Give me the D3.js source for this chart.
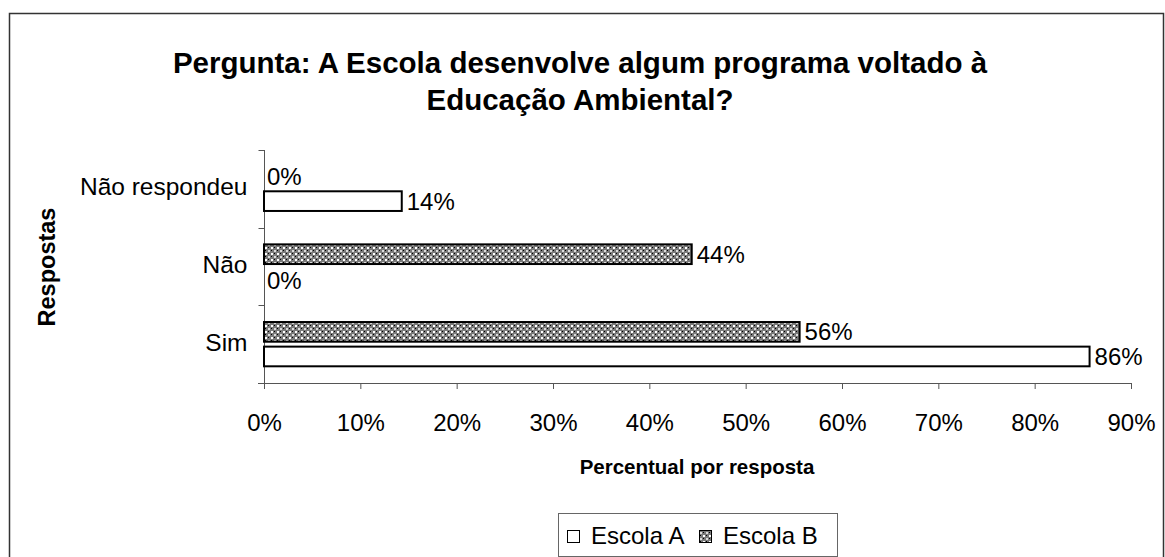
<!DOCTYPE html>
<html>
<head>
<meta charset="utf-8">
<script src="https://cdn.jsdelivr.net/npm/d3@7"></script>
<style>
  body { margin: 0; background: #fff; }
  svg text { font-family: "Liberation Sans", Arial, sans-serif; fill: #000; }
</style>
</head>
<body>
<svg id="chart" width="1165" height="557"></svg>
<script>
// Data
var categories = ["Não respondeu", "Não", "Sim"];
var seriesNames = ["Escola B", "Escola A"];   // top-to-bottom inside each group
var escolaA = [14.3, 0, 85.7];
var escolaB = [0, 44.4, 55.6];
var xTicks = [0, 10, 20, 30, 40, 50, 60, 70, 80, 90];

var svg = d3.select("#chart"),
    width = 1165,
    height = 557;

// hatch pattern for Escola B
var defs = svg.append("defs");
var pat = defs.append("pattern")
    .attr("id", "checker")
    .attr("width", 6).attr("height", 6)
    .attr("patternUnits", "userSpaceOnUse");
pat.append("rect").attr("width", 6).attr("height", 6).attr("fill", "#7a7a7a");
pat.append("rect").attr("x", 1).attr("y", 1).attr("width", 2).attr("height", 2).attr("fill", "#fff");
pat.append("rect").attr("x", 4).attr("y", 4).attr("width", 2).attr("height", 2).attr("fill", "#ddd");
pat.append("rect").attr("x", 4).attr("y", 1).attr("width", 1).attr("height", 1).attr("fill", "#000");
pat.append("rect").attr("x", 1).attr("y", 4).attr("width", 1).attr("height", 1).attr("fill", "#000");

// outer frame
svg.append("rect")
    .attr("x", 9.5).attr("y", 13.5)
    .attr("width", 1154).attr("height", 600)
    .attr("fill", "none").attr("stroke", "#333").attr("stroke-width", 1.5);

// Title
svg.append("text")
    .attr("x", 580).attr("y", 73)
    .attr("text-anchor", "middle")
    .style("font-size", "29.5px").style("font-weight", "bold")
    .text("Pergunta: A Escola desenvolve algum programa voltado à");
svg.append("text")
    .attr("x", 580).attr("y", 110)
    .attr("text-anchor", "middle")
    .style("font-size", "29.5px").style("font-weight", "bold")
    .text("Educação Ambiental?");

// Scales
var x = d3.scaleLinear().domain([0, 90]).range([264, 1131]);
var y0 = d3.scaleBand().domain(categories).range([150, 383]).paddingInner(0.43).paddingOuter(0.215);
var y1 = d3.scaleBand().domain(seriesNames).range([0, y0.bandwidth()]).paddingInner(0.2);

// x axis
var xAxis = svg.append("g")
    .attr("transform", "translate(0,383)")
    .call(d3.axisBottom(x).tickValues(xTicks).tickSize(6).tickPadding(25).tickFormat(function(d) { return d + "%"; }));
xAxis.select(".domain").attr("stroke", "#555").attr("d", "M258,0.5H1131.5");
xAxis.selectAll(".tick line").attr("stroke", "#555");
xAxis.selectAll(".tick text").style("font-size", "24px").style("font-family", "Liberation Sans, Arial, sans-serif");

// y axis (category boundaries as ticks)
var yAxisG = svg.append("g").attr("transform", "translate(264.5,0)");
yAxisG.append("line").attr("x1", 0).attr("x2", 0).attr("y1", 150).attr("y2", 389).attr("stroke", "#555");
var bounds = [150, 150 + y0.step(), 150 + 2 * y0.step(), 383];
yAxisG.selectAll("line.tk").data(bounds).enter().append("line")
    .attr("class", "tk")
    .attr("x1", -6).attr("x2", 0)
    .attr("y1", function(d) { return Math.round(d) + 0.5; })
    .attr("y2", function(d) { return Math.round(d) + 0.5; })
    .attr("stroke", "#555");
yAxisG.selectAll("text.cat").data(categories).enter().append("text")
    .attr("class", "cat")
    .attr("x", -17)
    .attr("y", function(d) { return y0(d) + y0.bandwidth() / 2 - 2; })
    .attr("dy", "0.35em")
    .attr("text-anchor", "end")
    .style("font-size", "24.5px")
    .text(function(d) { return d; });

// Bars
var rows = [];
categories.forEach(function(c, i) {
  rows.push({ cat: c, series: "Escola A", v: escolaA[i] });
  rows.push({ cat: c, series: "Escola B", v: escolaB[i] });
});

var bar = svg.append("g").selectAll("g").data(rows).enter().append("g");
bar.filter(function(d) { return d.v > 0; }).append("rect")
    .attr("x", x(0))
    .attr("y", function(d) { return y0(d.cat) + y1(d.series); })
    .attr("width", function(d) { return x(d.v) - x(0); })
    .attr("height", y1.bandwidth())
    .attr("fill", function(d) { return d.series === "Escola A" ? "#fff" : "url(#checker)"; })
    .attr("stroke", "#000").attr("stroke-width", 2);
bar.append("text")
    .attr("x", function(d) { return d.v > 0 ? x(d.v) + 5 : x(0) + 3; })
    .attr("y", function(d) { return y0(d.cat) + y1(d.series) + y1.bandwidth() / 2 + (d.v > 0 ? 0 : (d.series === "Escola B" ? 0 : 2)); })
    .attr("dy", "0.35em")
    .style("font-size", "24px")
    .text(function(d) { return Math.round(d.v) + "%"; });

// Axis titles
svg.append("text")
    .attr("x", 697).attr("y", 474)
    .attr("text-anchor", "middle")
    .style("font-size", "20.5px").style("font-weight", "bold")
    .text("Percentual por resposta");
svg.append("text")
    .attr("transform", "translate(55,267) rotate(-90)")
    .attr("text-anchor", "middle")
    .style("font-size", "23.5px").style("font-weight", "bold")
    .text("Respostas");

// Legend
var lg = svg.append("g");
lg.append("rect").attr("x", 558.5).attr("y", 513.5).attr("width", 279).attr("height", 43)
    .attr("fill", "#fff").attr("stroke", "#666").attr("stroke-width", 1);
var legendItems = [{ name: "Escola A", fill: "#fff", x: 567 }, { name: "Escola B", fill: "url(#checker)", x: 699 }];
legendItems.forEach(function(it) {
  lg.append("rect").attr("x", it.x + 0.5).attr("y", 530.5).attr("width", 12).attr("height", 12)
    .attr("fill", it.fill).attr("stroke", "#000").attr("stroke-width", 1);
  lg.append("text").attr("x", it.x + 24).attr("y", 536).attr("dy", "0.35em")
    .style("font-size", "24px").text(it.name);
});
</script>
</body>
</html>
